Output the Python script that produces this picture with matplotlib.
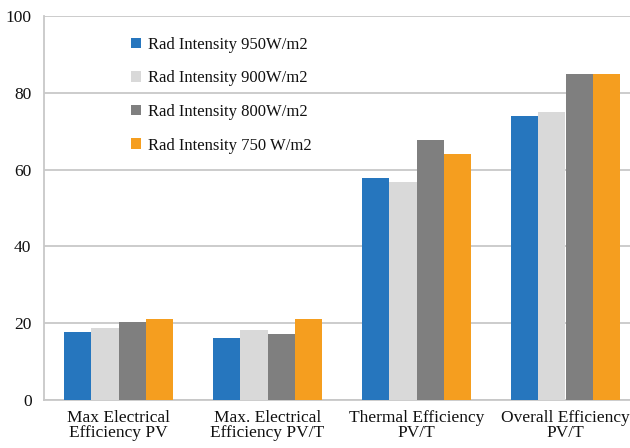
import matplotlib.pyplot as plt
import numpy as np

categories = ['Max Electrical\nEfficiency PV', 'Max. Electrical\nEfficiency PV/T',
              'Thermal Efficiency\nPV/T', 'Overall Efficiency\nPV/T']
series_names = ['Rad Intensity 950W/m2', 'Rad Intensity 900W/m2',
                'Rad Intensity 800W/m2', 'Rad Intensity 750 W/m2']
rad_950 = [17.8, 16.1, 57.7, 74.0]
rad_900 = [18.7, 18.3, 56.8, 75.1]
rad_800 = [20.2, 17.3, 67.8, 85.0]
rad_750 = [21.2, 21.1, 64.1, 85.0]
colors = ['#2676BE', '#D9D9D9', '#7F7F7F', '#F59E1F']

plt.rcParams['font.family'] = ['Liberation Serif', 'DejaVu Serif']

fig = plt.figure(figsize=(6.3, 4.48), dpi=100)
ax = fig.add_axes([44 / 630, 1 - 400 / 448, 596 / 630, 384 / 448])

x = np.arange(len(categories))
width = 0.182
for i, (vals, name) in enumerate(zip([rad_950, rad_900, rad_800, rad_750], series_names)):
    ax.bar(x + (i - 1.5) * width, vals, width, color=colors[i], label=name, zorder=3)

ax.set_xlim(-0.5, len(categories) - 0.5)
ax.set_ylim(0, 100)
ax.set_yticks(np.arange(0, 101, 20))
ax.set_xticks(x, categories)
ax.tick_params(axis='both', length=0, labelsize=12.5, labelcolor='#111111')
ax.tick_params(axis='x', pad=7)
ax.tick_params(axis='y', pad=9)
for lbl in ax.get_xticklabels():
    lbl.set_linespacing(0.95)
ax.grid(axis='y', color='#C8C8C8', linewidth=1.3, zorder=0)
for s in ['top', 'right']:
    ax.spines[s].set_visible(False)
for s in ['left', 'bottom']:
    ax.spines[s].set_color('#C8C8C8')
    ax.spines[s].set_linewidth(1.3)

leg = ax.legend(loc='upper left', bbox_to_anchor=(116 / 630, 1 - 22 / 448),
                bbox_transform=fig.transFigure, frameon=False, fontsize=12,
                handlelength=0.6, handleheight=0.6, handletextpad=0.4,
                labelspacing=1.05)
for t in leg.get_texts():
    t.set_color('#111111')

fig.savefig('out.png', dpi=100)
